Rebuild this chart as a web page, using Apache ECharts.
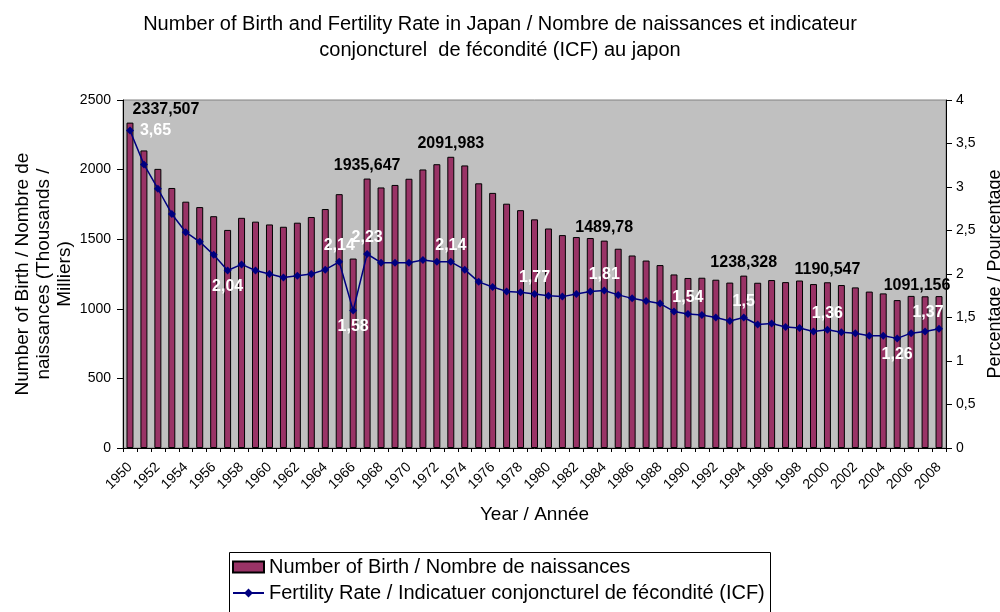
<!DOCTYPE html>
<html>
<head>
<meta charset="utf-8">
<script src="https://cdn.jsdelivr.net/npm/echarts@6/dist/echarts.min.js"></script>
<style>
html,body{margin:0;padding:0;background:#fff;}
#c{width:1000px;height:612px;}
</style>
</head>
<body>
<div id="c"></div>
<script>
const years = [];
for (let y = 1950; y <= 2008; y++) years.push(String(y));

// Number of births (thousands)
const births = [
  2337.507, 2137.689, 2005.162, 1868.040, 1769.580, 1730.692, 1665.278, 1566.713, 1653.469, 1626.088,
  1606.041, 1589.372, 1618.616, 1659.521, 1716.761, 1823.697, 1360.974, 1935.647, 1871.839, 1889.815,
  1934.239, 2000.973, 2038.682, 2091.983, 2029.989, 1901.440, 1832.617, 1755.100, 1708.643, 1642.580,
  1576.889, 1529.455, 1515.392, 1508.687, 1489.78, 1431.577, 1382.946, 1346.658, 1314.006, 1246.802,
  1221.585, 1223.245, 1208.989, 1188.282, 1238.328, 1187.064, 1206.555, 1191.665, 1203.147, 1177.669,
  1190.547, 1170.662, 1153.855, 1123.610, 1110.721, 1062.530, 1092.674, 1089.818, 1091.156
];

// Total fertility rate
const fertility = [
  3.65, 3.26, 2.98, 2.69, 2.48, 2.37, 2.22, 2.04, 2.11, 2.04,
  2.00, 1.96, 1.98, 2.00, 2.05, 2.14, 1.58, 2.23, 2.13, 2.13,
  2.13, 2.16, 2.14, 2.14, 2.05, 1.91, 1.85, 1.80, 1.79, 1.77,
  1.75, 1.74, 1.77, 1.80, 1.81, 1.76, 1.72, 1.69, 1.66, 1.57,
  1.54, 1.53, 1.50, 1.46, 1.50, 1.42, 1.43, 1.39, 1.38, 1.34,
  1.36, 1.33, 1.32, 1.29, 1.29, 1.26, 1.32, 1.34, 1.37
];

// Which years carry a value label
const birthLabelYears = ['1950', '1967', '1973', '1984', '1994', '2000', '2008'];
const fertLabelYearsAbove = ['1965', '1967', '1973', '1979', '1984', '1990', '1994', '2000', '2008'];
const fertLabelYearsBelow = ['1957', '1966', '2005'];
const fertLabelYearsRight = ['1950'];

const leftTicks = [0, 500, 1000, 1500, 2000, 2500];
const rightTicks = [0, 0.5, 1, 1.5, 2, 2.5, 3, 3.5, 4];

const FONT = '"Liberation Sans", Arial, sans-serif';
const comma = v => String(v).replace('.', ',');

const barName = 'Number of Birth / Nombre de naissances';
const lineName = 'Fertility Rate / Indicatuer conjoncturel de fécondité (ICF)';

const barData = births.map((v, i) => {
  const y = years[i];
  if (birthLabelYears.indexOf(y) < 0) return v;
  let off = [0, 0];
  if (y === '1950') off = [36, 0];
  if (y === '2008') off = [-22, 2];
  return {
    value: v,
    label: {
      show: true, position: 'top', distance: 5, offset: off,
      formatter: p => comma(p.value),
      color: '#000', fontWeight: 'bold', fontSize: 16, fontFamily: FONT
    }
  };
});

const lineData = fertility.map((v, i) => {
  const y = years[i];
  let pos = null;
  if (fertLabelYearsAbove.indexOf(y) >= 0) pos = 'top';
  if (fertLabelYearsBelow.indexOf(y) >= 0) pos = 'bottom';
  if (fertLabelYearsRight.indexOf(y) >= 0) pos = 'right';
  if (!pos) return v;
  return {
    value: v,
    label: {
      show: true, position: pos, distance: pos === 'right' ? 6 : 4,
      offset: y === '2008' ? [-11, 0] : [0, 0],
      formatter: p => comma(p.value),
      color: '#fff', fontWeight: 'bold', fontSize: 16, fontFamily: FONT
    }
  };
});

const LEGEND_FS = 20;
const legendText = {fontFamily: FONT, fontSize: LEGEND_FS, color: '#000'};
const mctx = document.createElement('canvas').getContext('2d');
mctx.font = LEGEND_FS + 'px ' + FONT;
const legendTextW = Math.max(mctx.measureText(barName).width, mctx.measureText(lineName).width);
const legendBoxW = Math.round(268 - 229 + legendTextW + 6);

const chart = echarts.init(document.getElementById('c'), null, {renderer: 'canvas'});
chart.setOption({
  animation: false,
  backgroundColor: '#fff',
  textStyle: {fontFamily: FONT},
  title: {
    text: 'Number of Birth and Fertility Rate in Japan / Nombre de naissances et indicateur\nconjoncturel  de fécondité (ICF) au japon',
    left: 'center', top: 6,
    textStyle: {fontFamily: FONT, fontSize: 20, fontWeight: 'normal', color: '#000', lineHeight: 26}
  },
  graphic: [{
    type: 'rect', left: 229, top: 552, z: 10,
    shape: {width: legendBoxW, height: 80},
    style: {fill: 'transparent', stroke: '#000', lineWidth: 1}
  }],
  legend: [
    {
      orient: 'vertical', left: 232, top: 557, padding: 0,
      itemWidth: 31, itemHeight: 11, itemGap: 4,
      textStyle: legendText,
      data: [{name: barName, icon: 'rect'}]
    },
    {
      orient: 'vertical', left: 232, top: 583, padding: 0,
      itemWidth: 31, itemHeight: 11, itemGap: 4,
      textStyle: legendText,
      data: [{name: lineName}]
    }
  ],
  grid: {
    left: 123, right: 54, top: 100, bottom: 164,
    outerBoundsMode: 'none', containLabel: false,
    show: true, backgroundColor: '#C0C0C0', borderColor: '#808080', borderWidth: 1
  },
  xAxis: {
    type: 'category', data: years, boundaryGap: true,
    name: 'Year / Année', nameLocation: 'middle', nameGap: 57,
    nameTextStyle: {fontFamily: FONT, fontSize: 19, color: '#000'},
    axisLine: {lineStyle: {color: '#000', width: 1}},
    axisTick: {show: true, interval: 0, length: 4, lineStyle: {color: '#000'}},
    axisLabel: {interval: 1, rotate: 45, fontSize: 14, color: '#000', fontFamily: FONT, margin: 17}
  },
  yAxis: [
    {
      type: 'value', min: 0, max: 2500, interval: 500, position: 'left',
      name: 'Number of Birth / Nombre de\nnaissances (Thousands /\nMilliers)',
      nameLocation: 'middle', nameRotate: 90, nameGap: 48, nameMoveOverlap: false,
      nameTextStyle: {fontFamily: FONT, fontSize: 19, color: '#000', lineHeight: 21, align: 'center'},
      axisLine: {show: true, lineStyle: {color: '#000'}},
      axisTick: {show: true, length: 6, lineStyle: {color: '#000'}},
      axisLabel: {fontSize: 14, color: '#000', fontFamily: FONT, margin: 12,
        formatter: v => leftTicks.indexOf(v) >= 0 ? String(v) : ''},
      splitLine: {show: false}
    },
    {
      type: 'value', min: 0, max: 4, interval: 0.5, position: 'right',
      name: 'Percentage / Pourcentage', nameLocation: 'middle', nameRotate: 90, nameGap: 38,
      nameTextStyle: {fontFamily: FONT, fontSize: 18, color: '#000'},
      axisLine: {show: true, lineStyle: {color: '#000'}},
      axisTick: {show: true, length: 6, lineStyle: {color: '#000'}},
      axisLabel: {fontSize: 14, color: '#000', fontFamily: FONT, margin: 10,
        formatter: v => rightTicks.indexOf(v) >= 0 ? comma(v) : ''},
      splitLine: {show: false}
    }
  ],
  series: [
    {
      name: barName, type: 'bar', yAxisIndex: 0, data: barData,
      barWidth: '50%',
      itemStyle: {color: '#993366', borderColor: '#000', borderWidth: 1},
      z: 2
    },
    {
      name: lineName, type: 'line', yAxisIndex: 1, data: lineData,
      symbol: 'diamond', symbolSize: 8, clip: false,
      lineStyle: {color: '#000080', width: 1.5},
      itemStyle: {color: '#000080'},
      z: 3
    }
  ]
});
</script>
</body>
</html>
